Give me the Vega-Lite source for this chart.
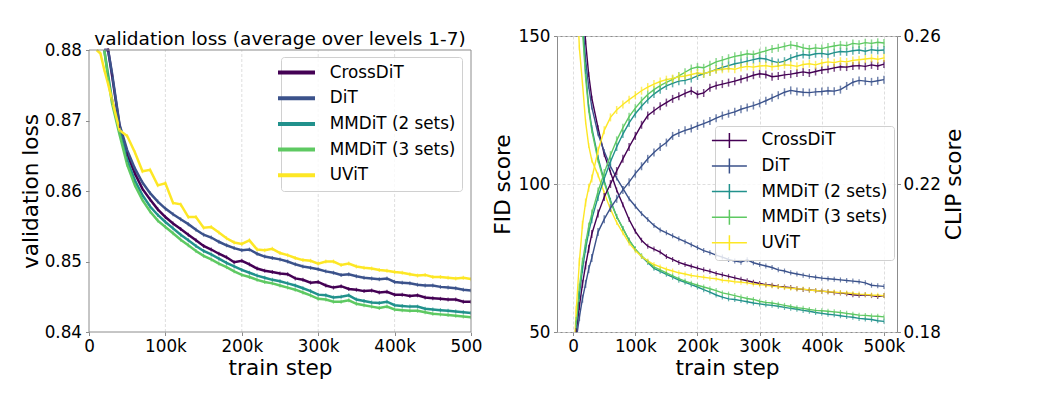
{
  "$schema": "https://vega.github.io/schema/vega-lite/v6.json",
  "padding": {"left": 20, "top": 27, "right": 0, "bottom": 0},
  "background": "white",
  "spacing": 9,
  "datasets": {
    "runs": [
      {"m":"CrossDiT","s":0,"loss":null,"fid":300,"clip":0.170},
      {"m":"CrossDiT","s":5000,"loss":null,"fid":230,"clip":0.180},
      {"m":"CrossDiT","s":10000,"loss":null,"fid":190,"clip":0.187},
      {"m":"CrossDiT","s":15000,"loss":null,"fid":165,"clip":0.193},
      {"m":"CrossDiT","s":20000,"loss":0.885,"fid":148,"clip":0.198},
      {"m":"CrossDiT","s":25000,"loss":0.880,"fid":137,"clip":0.2025},
      {"m":"CrossDiT","s":30000,"loss":0.8765,"fid":129,"clip":0.2065},
      {"m":"CrossDiT","s":40000,"loss":0.8692,"fid":119,"clip":0.2120},
      {"m":"CrossDiT","s":50000,"loss":0.8652,"fid":110,"clip":0.2165},
      {"m":"CrossDiT","s":60000,"loss":0.8625,"fid":104,"clip":0.2200},
      {"m":"CrossDiT","s":70000,"loss":0.8603,"fid":98,"clip":0.2235},
      {"m":"CrossDiT","s":80000,"loss":0.8588,"fid":93,"clip":0.2268},
      {"m":"CrossDiT","s":90000,"loss":0.8574,"fid":88,"clip":0.2300},
      {"m":"CrossDiT","s":100000,"loss":0.8563,"fid":84,"clip":0.2330},
      {"m":"CrossDiT","s":110000,"loss":0.8554,"fid":81,"clip":0.2360},
      {"m":"CrossDiT","s":120000,"loss":0.8546,"fid":79,"clip":0.2385},
      {"m":"CrossDiT","s":130000,"loss":0.8538,"fid":78,"clip":0.2398},
      {"m":"CrossDiT","s":140000,"loss":0.8530,"fid":77,"clip":0.2410},
      {"m":"CrossDiT","s":150000,"loss":0.8522,"fid":75.5,"clip":0.2420},
      {"m":"CrossDiT","s":160000,"loss":0.8517,"fid":74.5,"clip":0.2430},
      {"m":"CrossDiT","s":170000,"loss":0.8511,"fid":73.5,"clip":0.2437},
      {"m":"CrossDiT","s":180000,"loss":0.8506,"fid":72.8,"clip":0.2445},
      {"m":"CrossDiT","s":190000,"loss":0.8499,"fid":72.2,"clip":0.2452},
      {"m":"CrossDiT","s":200000,"loss":0.8501,"fid":71.6,"clip":0.2442},
      {"m":"CrossDiT","s":210000,"loss":0.8496,"fid":71.0,"clip":0.2446},
      {"m":"CrossDiT","s":220000,"loss":0.8490,"fid":70.5,"clip":0.2460},
      {"m":"CrossDiT","s":230000,"loss":0.8487,"fid":69.8,"clip":0.2466},
      {"m":"CrossDiT","s":240000,"loss":0.8485,"fid":69.3,"clip":0.2470},
      {"m":"CrossDiT","s":250000,"loss":0.8483,"fid":68.8,"clip":0.2474},
      {"m":"CrossDiT","s":260000,"loss":0.8482,"fid":68.3,"clip":0.2478},
      {"m":"CrossDiT","s":270000,"loss":0.8476,"fid":67.8,"clip":0.2483},
      {"m":"CrossDiT","s":280000,"loss":0.8474,"fid":67.3,"clip":0.2488},
      {"m":"CrossDiT","s":290000,"loss":0.8470,"fid":66.8,"clip":0.2494},
      {"m":"CrossDiT","s":300000,"loss":0.8471,"fid":66.4,"clip":0.2498},
      {"m":"CrossDiT","s":310000,"loss":0.8466,"fid":66.0,"clip":0.2496},
      {"m":"CrossDiT","s":320000,"loss":0.8463,"fid":65.8,"clip":0.2490},
      {"m":"CrossDiT","s":330000,"loss":0.8465,"fid":65.4,"clip":0.2492},
      {"m":"CrossDiT","s":340000,"loss":0.8461,"fid":65.2,"clip":0.2495},
      {"m":"CrossDiT","s":350000,"loss":0.8460,"fid":65.0,"clip":0.2497},
      {"m":"CrossDiT","s":360000,"loss":0.8458,"fid":64.6,"clip":0.2500},
      {"m":"CrossDiT","s":370000,"loss":0.8459,"fid":64.4,"clip":0.2503},
      {"m":"CrossDiT","s":380000,"loss":0.8456,"fid":64.2,"clip":0.2500},
      {"m":"CrossDiT","s":390000,"loss":0.8457,"fid":64.0,"clip":0.2504},
      {"m":"CrossDiT","s":400000,"loss":0.8453,"fid":63.8,"clip":0.2508},
      {"m":"CrossDiT","s":410000,"loss":0.8453,"fid":63.6,"clip":0.2510},
      {"m":"CrossDiT","s":420000,"loss":0.8451,"fid":63.3,"clip":0.2514},
      {"m":"CrossDiT","s":430000,"loss":0.8452,"fid":63.2,"clip":0.2517},
      {"m":"CrossDiT","s":440000,"loss":0.8449,"fid":62.9,"clip":0.2516},
      {"m":"CrossDiT","s":450000,"loss":0.8448,"fid":62.6,"clip":0.2519},
      {"m":"CrossDiT","s":460000,"loss":0.8447,"fid":62.4,"clip":0.2520},
      {"m":"CrossDiT","s":470000,"loss":0.8446,"fid":62.6,"clip":0.2518},
      {"m":"CrossDiT","s":480000,"loss":0.8446,"fid":62.3,"clip":0.2522},
      {"m":"CrossDiT","s":490000,"loss":0.8443,"fid":62.0,"clip":0.2519},
      {"m":"CrossDiT","s":500000,"loss":0.8443,"fid":62.3,"clip":0.2524},

      {"m":"DiT","s":0,"loss":null,"fid":300,"clip":0.170},
      {"m":"DiT","s":5000,"loss":null,"fid":220,"clip":0.178},
      {"m":"DiT","s":10000,"loss":null,"fid":180,"clip":0.184},
      {"m":"DiT","s":15000,"loss":null,"fid":155,"clip":0.189},
      {"m":"DiT","s":20000,"loss":0.886,"fid":142,"clip":0.193},
      {"m":"DiT","s":25000,"loss":0.8805,"fid":133,"clip":0.197},
      {"m":"DiT","s":30000,"loss":0.8768,"fid":126,"clip":0.200},
      {"m":"DiT","s":40000,"loss":0.8694,"fid":117,"clip":0.2070},
      {"m":"DiT","s":50000,"loss":0.8658,"fid":111,"clip":0.2105},
      {"m":"DiT","s":60000,"loss":0.8632,"fid":106,"clip":0.2135},
      {"m":"DiT","s":70000,"loss":0.8612,"fid":102,"clip":0.2160},
      {"m":"DiT","s":80000,"loss":0.8597,"fid":98.5,"clip":0.2184},
      {"m":"DiT","s":90000,"loss":0.8585,"fid":95,"clip":0.2205},
      {"m":"DiT","s":100000,"loss":0.8575,"fid":92.5,"clip":0.2228},
      {"m":"DiT","s":110000,"loss":0.8567,"fid":90,"clip":0.2248},
      {"m":"DiT","s":120000,"loss":0.8560,"fid":88,"clip":0.2268},
      {"m":"DiT","s":130000,"loss":0.8553,"fid":86,"clip":0.2285},
      {"m":"DiT","s":140000,"loss":0.8545,"fid":84.5,"clip":0.2300},
      {"m":"DiT","s":150000,"loss":0.8538,"fid":83.5,"clip":0.2312},
      {"m":"DiT","s":160000,"loss":0.8534,"fid":82.5,"clip":0.2330},
      {"m":"DiT","s":170000,"loss":0.8528,"fid":81.5,"clip":0.2338},
      {"m":"DiT","s":180000,"loss":0.8523,"fid":80.5,"clip":0.2345},
      {"m":"DiT","s":190000,"loss":0.8519,"fid":79.5,"clip":0.2350},
      {"m":"DiT","s":200000,"loss":0.8516,"fid":78.5,"clip":0.2357},
      {"m":"DiT","s":210000,"loss":0.8517,"fid":77.5,"clip":0.2363},
      {"m":"DiT","s":220000,"loss":0.8511,"fid":76.8,"clip":0.2370},
      {"m":"DiT","s":230000,"loss":0.8507,"fid":76.0,"clip":0.2378},
      {"m":"DiT","s":240000,"loss":0.8505,"fid":75.3,"clip":0.2385},
      {"m":"DiT","s":250000,"loss":0.8503,"fid":74.5,"clip":0.2390},
      {"m":"DiT","s":260000,"loss":0.8500,"fid":74.0,"clip":0.2395},
      {"m":"DiT","s":270000,"loss":0.8496,"fid":73.6,"clip":0.2402},
      {"m":"DiT","s":280000,"loss":0.8493,"fid":74.4,"clip":0.2407},
      {"m":"DiT","s":290000,"loss":0.8491,"fid":73.4,"clip":0.2412},
      {"m":"DiT","s":300000,"loss":0.8489,"fid":72.8,"clip":0.2418},
      {"m":"DiT","s":310000,"loss":0.8486,"fid":72.3,"clip":0.2425},
      {"m":"DiT","s":320000,"loss":0.8484,"fid":71.8,"clip":0.2433},
      {"m":"DiT","s":330000,"loss":0.8481,"fid":71.0,"clip":0.2440},
      {"m":"DiT","s":340000,"loss":0.8482,"fid":70.6,"clip":0.2448},
      {"m":"DiT","s":350000,"loss":0.8479,"fid":70.0,"clip":0.2453},
      {"m":"DiT","s":360000,"loss":0.8477,"fid":69.6,"clip":0.2450},
      {"m":"DiT","s":370000,"loss":0.8476,"fid":69.2,"clip":0.2448},
      {"m":"DiT","s":380000,"loss":0.8475,"fid":68.8,"clip":0.2447},
      {"m":"DiT","s":390000,"loss":0.8476,"fid":68.5,"clip":0.2449},
      {"m":"DiT","s":400000,"loss":0.8471,"fid":68.2,"clip":0.2450},
      {"m":"DiT","s":410000,"loss":0.8470,"fid":68.0,"clip":0.2452},
      {"m":"DiT","s":420000,"loss":0.8469,"fid":67.8,"clip":0.2451},
      {"m":"DiT","s":430000,"loss":0.8467,"fid":67.6,"clip":0.2455},
      {"m":"DiT","s":440000,"loss":0.8466,"fid":67.4,"clip":0.2465},
      {"m":"DiT","s":450000,"loss":0.8466,"fid":67.2,"clip":0.2475},
      {"m":"DiT","s":460000,"loss":0.8464,"fid":67.0,"clip":0.2480},
      {"m":"DiT","s":470000,"loss":0.8463,"fid":66.6,"clip":0.2478},
      {"m":"DiT","s":480000,"loss":0.8462,"fid":65.8,"clip":0.2476},
      {"m":"DiT","s":490000,"loss":0.8460,"fid":65.6,"clip":0.2479},
      {"m":"DiT","s":500000,"loss":0.8459,"fid":65.4,"clip":0.2482},

      {"m":"MMDiT (2 sets)","s":0,"loss":null,"fid":300,"clip":0.170},
      {"m":"MMDiT (2 sets)","s":5000,"loss":null,"fid":215,"clip":0.182},
      {"m":"MMDiT (2 sets)","s":10000,"loss":null,"fid":178,"clip":0.190},
      {"m":"MMDiT (2 sets)","s":15000,"loss":null,"fid":155,"clip":0.197},
      {"m":"MMDiT (2 sets)","s":20000,"loss":0.8815,"fid":138,"clip":0.2025},
      {"m":"MMDiT (2 sets)","s":25000,"loss":0.8765,"fid":126,"clip":0.207},
      {"m":"MMDiT (2 sets)","s":30000,"loss":0.8730,"fid":119,"clip":0.2105},
      {"m":"MMDiT (2 sets)","s":40000,"loss":0.8684,"fid":109,"clip":0.2165},
      {"m":"MMDiT (2 sets)","s":50000,"loss":0.8644,"fid":101,"clip":0.2215},
      {"m":"MMDiT (2 sets)","s":60000,"loss":0.8615,"fid":94.5,"clip":0.2260},
      {"m":"MMDiT (2 sets)","s":70000,"loss":0.8594,"fid":89,"clip":0.2300},
      {"m":"MMDiT (2 sets)","s":80000,"loss":0.8578,"fid":85,"clip":0.2335},
      {"m":"MMDiT (2 sets)","s":90000,"loss":0.8566,"fid":81,"clip":0.2365},
      {"m":"MMDiT (2 sets)","s":100000,"loss":0.8556,"fid":78,"clip":0.2390},
      {"m":"MMDiT (2 sets)","s":110000,"loss":0.8547,"fid":75.5,"clip":0.2410},
      {"m":"MMDiT (2 sets)","s":120000,"loss":0.8538,"fid":73.5,"clip":0.2428},
      {"m":"MMDiT (2 sets)","s":130000,"loss":0.8530,"fid":71.5,"clip":0.2443},
      {"m":"MMDiT (2 sets)","s":140000,"loss":0.8522,"fid":70.5,"clip":0.2455},
      {"m":"MMDiT (2 sets)","s":150000,"loss":0.8515,"fid":69.5,"clip":0.2465},
      {"m":"MMDiT (2 sets)","s":160000,"loss":0.8510,"fid":68.5,"clip":0.2472},
      {"m":"MMDiT (2 sets)","s":170000,"loss":0.8504,"fid":67.5,"clip":0.2478},
      {"m":"MMDiT (2 sets)","s":180000,"loss":0.8498,"fid":66.8,"clip":0.2480},
      {"m":"MMDiT (2 sets)","s":190000,"loss":0.8493,"fid":66.0,"clip":0.2485},
      {"m":"MMDiT (2 sets)","s":200000,"loss":0.8488,"fid":65.2,"clip":0.2492},
      {"m":"MMDiT (2 sets)","s":210000,"loss":0.8484,"fid":64.3,"clip":0.2498},
      {"m":"MMDiT (2 sets)","s":220000,"loss":0.8480,"fid":63.5,"clip":0.2503},
      {"m":"MMDiT (2 sets)","s":230000,"loss":0.8477,"fid":62.5,"clip":0.2510},
      {"m":"MMDiT (2 sets)","s":240000,"loss":0.8474,"fid":61.8,"clip":0.2515},
      {"m":"MMDiT (2 sets)","s":250000,"loss":0.8472,"fid":61.2,"clip":0.2520},
      {"m":"MMDiT (2 sets)","s":260000,"loss":0.8469,"fid":61.0,"clip":0.2525},
      {"m":"MMDiT (2 sets)","s":270000,"loss":0.8466,"fid":60.6,"clip":0.2528},
      {"m":"MMDiT (2 sets)","s":280000,"loss":0.8462,"fid":60.2,"clip":0.2532},
      {"m":"MMDiT (2 sets)","s":290000,"loss":0.8458,"fid":59.8,"clip":0.2536},
      {"m":"MMDiT (2 sets)","s":300000,"loss":0.8453,"fid":59.5,"clip":0.2540},
      {"m":"MMDiT (2 sets)","s":310000,"loss":0.8452,"fid":59.2,"clip":0.2538},
      {"m":"MMDiT (2 sets)","s":320000,"loss":0.8449,"fid":59.0,"clip":0.2532},
      {"m":"MMDiT (2 sets)","s":330000,"loss":0.8450,"fid":58.7,"clip":0.2528},
      {"m":"MMDiT (2 sets)","s":340000,"loss":0.8452,"fid":58.3,"clip":0.2532},
      {"m":"MMDiT (2 sets)","s":350000,"loss":0.8446,"fid":58.0,"clip":0.2540},
      {"m":"MMDiT (2 sets)","s":360000,"loss":0.8444,"fid":57.7,"clip":0.2546},
      {"m":"MMDiT (2 sets)","s":370000,"loss":0.8442,"fid":57.3,"clip":0.2550},
      {"m":"MMDiT (2 sets)","s":380000,"loss":0.8441,"fid":57.0,"clip":0.2548},
      {"m":"MMDiT (2 sets)","s":390000,"loss":0.8443,"fid":56.6,"clip":0.2552},
      {"m":"MMDiT (2 sets)","s":400000,"loss":0.8438,"fid":56.3,"clip":0.2553},
      {"m":"MMDiT (2 sets)","s":410000,"loss":0.8437,"fid":56.0,"clip":0.2550},
      {"m":"MMDiT (2 sets)","s":420000,"loss":0.8436,"fid":55.8,"clip":0.2555},
      {"m":"MMDiT (2 sets)","s":430000,"loss":0.8436,"fid":55.5,"clip":0.2558},
      {"m":"MMDiT (2 sets)","s":440000,"loss":0.8433,"fid":55.2,"clip":0.2557},
      {"m":"MMDiT (2 sets)","s":450000,"loss":0.8432,"fid":55.0,"clip":0.2560},
      {"m":"MMDiT (2 sets)","s":460000,"loss":0.8431,"fid":54.6,"clip":0.2562},
      {"m":"MMDiT (2 sets)","s":470000,"loss":0.8430,"fid":54.4,"clip":0.2559},
      {"m":"MMDiT (2 sets)","s":480000,"loss":0.8429,"fid":54.2,"clip":0.2563},
      {"m":"MMDiT (2 sets)","s":490000,"loss":0.8428,"fid":53.8,"clip":0.2561},
      {"m":"MMDiT (2 sets)","s":500000,"loss":0.8427,"fid":53.6,"clip":0.2562},

      {"m":"MMDiT (3 sets)","s":0,"loss":null,"fid":300,"clip":0.170},
      {"m":"MMDiT (3 sets)","s":5000,"loss":null,"fid":210,"clip":0.183},
      {"m":"MMDiT (3 sets)","s":10000,"loss":null,"fid":175,"clip":0.192},
      {"m":"MMDiT (3 sets)","s":15000,"loss":null,"fid":152,"clip":0.199},
      {"m":"MMDiT (3 sets)","s":20000,"loss":0.8810,"fid":136,"clip":0.204},
      {"m":"MMDiT (3 sets)","s":25000,"loss":0.8760,"fid":125,"clip":0.2085},
      {"m":"MMDiT (3 sets)","s":30000,"loss":0.8725,"fid":118,"clip":0.2120},
      {"m":"MMDiT (3 sets)","s":40000,"loss":0.8680,"fid":108,"clip":0.2180},
      {"m":"MMDiT (3 sets)","s":50000,"loss":0.8637,"fid":100.5,"clip":0.2230},
      {"m":"MMDiT (3 sets)","s":60000,"loss":0.8608,"fid":94,"clip":0.2278},
      {"m":"MMDiT (3 sets)","s":70000,"loss":0.8587,"fid":89,"clip":0.2318},
      {"m":"MMDiT (3 sets)","s":80000,"loss":0.8571,"fid":85,"clip":0.2352},
      {"m":"MMDiT (3 sets)","s":90000,"loss":0.8558,"fid":81,"clip":0.2382},
      {"m":"MMDiT (3 sets)","s":100000,"loss":0.8549,"fid":78,"clip":0.2405},
      {"m":"MMDiT (3 sets)","s":110000,"loss":0.8540,"fid":75.8,"clip":0.2425},
      {"m":"MMDiT (3 sets)","s":120000,"loss":0.8531,"fid":73.8,"clip":0.2442},
      {"m":"MMDiT (3 sets)","s":130000,"loss":0.8523,"fid":72.0,"clip":0.2455},
      {"m":"MMDiT (3 sets)","s":140000,"loss":0.8515,"fid":71.0,"clip":0.2466},
      {"m":"MMDiT (3 sets)","s":150000,"loss":0.8508,"fid":70.0,"clip":0.2475},
      {"m":"MMDiT (3 sets)","s":160000,"loss":0.8503,"fid":69.0,"clip":0.2483},
      {"m":"MMDiT (3 sets)","s":170000,"loss":0.8497,"fid":68.0,"clip":0.2492},
      {"m":"MMDiT (3 sets)","s":180000,"loss":0.8492,"fid":67.2,"clip":0.2502},
      {"m":"MMDiT (3 sets)","s":190000,"loss":0.8486,"fid":66.5,"clip":0.2512},
      {"m":"MMDiT (3 sets)","s":200000,"loss":0.8481,"fid":65.8,"clip":0.2516},
      {"m":"MMDiT (3 sets)","s":210000,"loss":0.8478,"fid":65.2,"clip":0.2514},
      {"m":"MMDiT (3 sets)","s":220000,"loss":0.8474,"fid":64.6,"clip":0.2522},
      {"m":"MMDiT (3 sets)","s":230000,"loss":0.8471,"fid":64.0,"clip":0.2530},
      {"m":"MMDiT (3 sets)","s":240000,"loss":0.8469,"fid":63.2,"clip":0.2535},
      {"m":"MMDiT (3 sets)","s":250000,"loss":0.8466,"fid":62.8,"clip":0.2540},
      {"m":"MMDiT (3 sets)","s":260000,"loss":0.8463,"fid":62.3,"clip":0.2545},
      {"m":"MMDiT (3 sets)","s":270000,"loss":0.8460,"fid":61.8,"clip":0.2548},
      {"m":"MMDiT (3 sets)","s":280000,"loss":0.8456,"fid":61.3,"clip":0.2552},
      {"m":"MMDiT (3 sets)","s":290000,"loss":0.8452,"fid":61.0,"clip":0.2550},
      {"m":"MMDiT (3 sets)","s":300000,"loss":0.8447,"fid":60.4,"clip":0.2555},
      {"m":"MMDiT (3 sets)","s":310000,"loss":0.8446,"fid":60.0,"clip":0.2560},
      {"m":"MMDiT (3 sets)","s":320000,"loss":0.8443,"fid":59.8,"clip":0.2565},
      {"m":"MMDiT (3 sets)","s":330000,"loss":0.8443,"fid":59.4,"clip":0.2568},
      {"m":"MMDiT (3 sets)","s":340000,"loss":0.8445,"fid":59.0,"clip":0.2572},
      {"m":"MMDiT (3 sets)","s":350000,"loss":0.8440,"fid":58.6,"clip":0.2576},
      {"m":"MMDiT (3 sets)","s":360000,"loss":0.8438,"fid":58.2,"clip":0.2573},
      {"m":"MMDiT (3 sets)","s":370000,"loss":0.8436,"fid":58.0,"clip":0.2568},
      {"m":"MMDiT (3 sets)","s":380000,"loss":0.8434,"fid":57.6,"clip":0.2565},
      {"m":"MMDiT (3 sets)","s":390000,"loss":0.8436,"fid":57.3,"clip":0.2568},
      {"m":"MMDiT (3 sets)","s":400000,"loss":0.8432,"fid":57.2,"clip":0.2566},
      {"m":"MMDiT (3 sets)","s":410000,"loss":0.8431,"fid":57.0,"clip":0.2570},
      {"m":"MMDiT (3 sets)","s":420000,"loss":0.8430,"fid":56.8,"clip":0.2573},
      {"m":"MMDiT (3 sets)","s":430000,"loss":0.8430,"fid":56.6,"clip":0.2576},
      {"m":"MMDiT (3 sets)","s":440000,"loss":0.8428,"fid":56.3,"clip":0.2574},
      {"m":"MMDiT (3 sets)","s":450000,"loss":0.8426,"fid":56.0,"clip":0.2580},
      {"m":"MMDiT (3 sets)","s":460000,"loss":0.8425,"fid":55.7,"clip":0.2578},
      {"m":"MMDiT (3 sets)","s":470000,"loss":0.8424,"fid":55.6,"clip":0.2582},
      {"m":"MMDiT (3 sets)","s":480000,"loss":0.8423,"fid":55.4,"clip":0.2580},
      {"m":"MMDiT (3 sets)","s":490000,"loss":0.8422,"fid":55.3,"clip":0.2583},
      {"m":"MMDiT (3 sets)","s":500000,"loss":0.8421,"fid":55.1,"clip":0.2581},

      {"m":"UViT","s":0,"loss":null,"fid":300,"clip":0.170},
      {"m":"UViT","s":5000,"loss":null,"fid":170,"clip":0.186},
      {"m":"UViT","s":10000,"loss":0.890,"fid":146,"clip":0.199},
      {"m":"UViT","s":15000,"loss":0.8795,"fid":134,"clip":0.209},
      {"m":"UViT","s":20000,"loss":0.8772,"fid":121,"clip":0.2150},
      {"m":"UViT","s":25000,"loss":0.8752,"fid":113,"clip":0.2190},
      {"m":"UViT","s":30000,"loss":0.8730,"fid":108,"clip":0.2215},
      {"m":"UViT","s":40000,"loss":0.8686,"fid":103,"clip":0.2290},
      {"m":"UViT","s":50000,"loss":0.8678,"fid":97,"clip":0.2345},
      {"m":"UViT","s":60000,"loss":0.8655,"fid":91.5,"clip":0.2380},
      {"m":"UViT","s":70000,"loss":0.8628,"fid":87,"clip":0.2400},
      {"m":"UViT","s":80000,"loss":0.8630,"fid":83.5,"clip":0.2415},
      {"m":"UViT","s":90000,"loss":0.8608,"fid":80,"clip":0.2428},
      {"m":"UViT","s":100000,"loss":0.8611,"fid":77.5,"clip":0.2440},
      {"m":"UViT","s":110000,"loss":0.8583,"fid":75.5,"clip":0.2452},
      {"m":"UViT","s":120000,"loss":0.8581,"fid":74.0,"clip":0.2462},
      {"m":"UViT","s":130000,"loss":0.8563,"fid":72.8,"clip":0.2470},
      {"m":"UViT","s":140000,"loss":0.8563,"fid":72.0,"clip":0.2477},
      {"m":"UViT","s":150000,"loss":0.8548,"fid":71.2,"clip":0.2482},
      {"m":"UViT","s":160000,"loss":0.8549,"fid":70.6,"clip":0.2485},
      {"m":"UViT","s":170000,"loss":0.8541,"fid":70.0,"clip":0.2490},
      {"m":"UViT","s":180000,"loss":0.8533,"fid":69.6,"clip":0.2492},
      {"m":"UViT","s":190000,"loss":0.8527,"fid":69.1,"clip":0.2496},
      {"m":"UViT","s":200000,"loss":0.8525,"fid":68.8,"clip":0.2500},
      {"m":"UViT","s":210000,"loss":0.8530,"fid":68.5,"clip":0.2498},
      {"m":"UViT","s":220000,"loss":0.8517,"fid":68.2,"clip":0.2503},
      {"m":"UViT","s":230000,"loss":0.8516,"fid":68.0,"clip":0.2508},
      {"m":"UViT","s":240000,"loss":0.8518,"fid":67.5,"clip":0.2510},
      {"m":"UViT","s":250000,"loss":0.8512,"fid":67.3,"clip":0.2512},
      {"m":"UViT","s":260000,"loss":0.8509,"fid":67.0,"clip":0.2510},
      {"m":"UViT","s":270000,"loss":0.8505,"fid":66.8,"clip":0.2515},
      {"m":"UViT","s":280000,"loss":0.8502,"fid":66.6,"clip":0.2518},
      {"m":"UViT","s":290000,"loss":0.8501,"fid":66.2,"clip":0.2516},
      {"m":"UViT","s":300000,"loss":0.8497,"fid":66.0,"clip":0.2519},
      {"m":"UViT","s":310000,"loss":0.8500,"fid":65.8,"clip":0.2520},
      {"m":"UViT","s":320000,"loss":0.8500,"fid":65.5,"clip":0.2517},
      {"m":"UViT","s":330000,"loss":0.8495,"fid":65.3,"clip":0.2519},
      {"m":"UViT","s":340000,"loss":0.8497,"fid":65.0,"clip":0.2522},
      {"m":"UViT","s":350000,"loss":0.8493,"fid":64.8,"clip":0.2521},
      {"m":"UViT","s":360000,"loss":0.8491,"fid":64.6,"clip":0.2518},
      {"m":"UViT","s":370000,"loss":0.8490,"fid":64.5,"clip":0.2523},
      {"m":"UViT","s":380000,"loss":0.8488,"fid":64.2,"clip":0.2525},
      {"m":"UViT","s":390000,"loss":0.8487,"fid":64.0,"clip":0.2522},
      {"m":"UViT","s":400000,"loss":0.8485,"fid":63.8,"clip":0.2527},
      {"m":"UViT","s":410000,"loss":0.8484,"fid":63.6,"clip":0.2530},
      {"m":"UViT","s":420000,"loss":0.8482,"fid":63.5,"clip":0.2528},
      {"m":"UViT","s":430000,"loss":0.8480,"fid":63.3,"clip":0.2532},
      {"m":"UViT","s":440000,"loss":0.8481,"fid":63.2,"clip":0.2530},
      {"m":"UViT","s":450000,"loss":0.8478,"fid":63.0,"clip":0.2534},
      {"m":"UViT","s":460000,"loss":0.8478,"fid":62.8,"clip":0.2536},
      {"m":"UViT","s":470000,"loss":0.8477,"fid":62.7,"clip":0.2538},
      {"m":"UViT","s":480000,"loss":0.8476,"fid":62.5,"clip":0.2540},
      {"m":"UViT","s":490000,"loss":0.8477,"fid":62.4,"clip":0.2537},
      {"m":"UViT","s":500000,"loss":0.8475,"fid":62.3,"clip":0.2541}
    ]
  },
  "data": {"name": "runs"},
  "config": {
    "font": "DejaVu Sans",
    "view": {"stroke": "#8c8c8c", "strokeWidth": 1},
    "axis": {
      "labelFont": "DejaVu Sans",
      "titleFont": "DejaVu Sans",
      "labelFontSize": 16.8,
      "titleFontSize": 21.6,
      "titleFontWeight": "normal",
      "labelColor": "#000000",
      "titleColor": "#000000",
      "domain": false,
      "tickColor": "#8c8c8c",
      "tickSize": 3.5,
      "labelPadding": 3,
      "labelFlush": false,
      "gridColor": "#d6d6d6",
      "gridDash": [3, 2],
      "gridWidth": 0.8
    },
    "legend": {
      "title": null,
      "orient": "none",
      "labelFont": "DejaVu Sans",
      "labelFontSize": 16.8,
      "labelColor": "#000000",
      "labelLimit": 300,
      "padding": 6,
      "strokeColor": "#d0d0d0",
      "fillColor": "rgba(255,255,255,0.8)",
      "cornerRadius": 3
    }
  },
  "hconcat": [
    {
      "width": 382,
      "height": 296,
      "view": {"stroke": null},
      "title": {
        "text": "validation loss (average over levels 1-7)",
        "fontSize": 18.5,
        "fontWeight": "normal",
        "color": "#000000",
        "anchor": "middle",
        "offset": -12
      },
      "layer": [
        {
          "transform": [
            {"filter": {"field": "m", "equal": "CrossDiT"}},
            {"filter": {"field": "s", "oneOf": [100000, 200000, 300000, 400000]}}
          ],
          "mark": {"type": "rule", "stroke": "#d6d6d6", "strokeWidth": 0.8, "strokeDash": [3, 2]},
          "encoding": {
            "x": {"field": "s", "type": "quantitative", "axis": null},
            "y": {"datum": 0.84, "type": "quantitative", "axis": null},
            "y2": {"datum": 0.88}
          }
        },
        {
          "mark": {"type": "line", "strokeWidth": 2.5, "clip": true},
          "encoding": {
            "x": {
              "field": "s", "type": "quantitative",
              "scale": {"domain": [0, 500000], "nice": false},
              "axis": {
                "values": [0, 100000, 200000, 300000, 400000, 500000],
                "labelExpr": "datum.value == 0 ? '0' : datum.value == 500000 ? '500' : format(datum.value / 1000, 'd') + 'k'",
                "labelOffset": {"condition": {"test": "datum.value == 500000", "value": -5}, "value": 0},
                "title": "train step",
                "titlePadding": 2,
                "grid": false
              }
            },
            "y": {
              "field": "loss", "type": "quantitative",
              "scale": {"domain": [0.84, 0.88], "range": [296, 14], "nice": false, "zero": false, "clamp": true},
              "axis": {
                "values": [0.84, 0.85, 0.86, 0.87, 0.88],
                "format": ".2f",
                "title": "validation loss",
                "labelPadding": 4,
                "titlePadding": 2
              }
            },
            "color": {
              "field": "m", "type": "nominal",
              "scale": {
                "domain": ["CrossDiT", "DiT", "MMDiT (2 sets)", "MMDiT (3 sets)", "UViT"],
                "range": ["#440154", "#3b528b", "#21918c", "#5ec962", "#fde725"]
              },
              "legend": {
                "legendX": 192,
                "legendY": 21,
                "rowPadding": 6.7,
                "symbolType": "M-2.5,0H2.5",
                "symbolSize": 219,
                "symbolStrokeWidth": 4,
                "labelOffset": 23.8
              }
            }
          }
        },
        {
          "transform": [{"filter": {"field": "loss", "lte": 0.88}}],
          "mark": {"type": "tick", "orient": "vertical", "size": 4, "thickness": 1.2, "clip": true},
          "encoding": {
            "x": {"field": "s", "type": "quantitative", "axis": null},
            "y": {"field": "loss", "type": "quantitative", "axis": null},
            "color": {"field": "m", "type": "nominal", "legend": null}
          }
        },
        {
          "data": {"values": [{}]},
          "mark": {"type": "rect", "fillOpacity": 0, "stroke": "#8c8c8c", "strokeWidth": 1},
          "encoding": {
            "x": {"datum": 0, "type": "quantitative", "axis": null},
            "x2": {"datum": 500000},
            "y": {"datum": 0.84, "type": "quantitative", "axis": null},
            "y2": {"datum": 0.88}
          }
        }
      ],
      "resolve": {"axis": {"x": "independent", "y": "independent"}}
    },
    {
      "width": 340,
      "height": 296,
      "layer": [
        {
          "layer": [
            {
              "mark": {"type": "line", "strokeWidth": 1.4, "clip": true},
              "encoding": {
                "x": {
                  "field": "s", "type": "quantitative",
                  "scale": {"domain": [-26000, 521000], "nice": false, "zero": false},
                  "axis": {
                    "values": [0, 100000, 200000, 300000, 400000, 500000],
                    "labelExpr": "datum.value == 0 ? '0' : format(datum.value / 1000, 'd') + 'k'",
                    "title": "train step",
                    "titlePadding": 2
                  }
                },
                "y": {
                  "field": "fid", "type": "quantitative",
                  "scale": {"domain": [50, 150], "nice": false, "zero": false},
                  "axis": {
                    "values": [50, 100, 150],
                    "title": "FID score",
                    "labelPadding": 3.5,
                    "titlePadding": 3
                  }
                },
                "color": {
                  "field": "m", "type": "nominal",
                  "scale": {
                    "domain": ["CrossDiT", "DiT", "MMDiT (2 sets)", "MMDiT (3 sets)", "UViT"],
                    "range": ["#440154", "#3b528b", "#21918c", "#5ec962", "#fde725"]
                  },
                  "legend": {
                    "legendX": 158,
                    "legendY": 90,
                    "rowPadding": 3.6,
                    "symbolType": "M-2.5,0H2.5M0,-1.07V1.07",
                    "symbolSize": 196,
                    "symbolStrokeWidth": 1.5,
                    "labelOffset": 23.8
                  }
                }
              }
            },
            {
              "mark": {"type": "tick", "orient": "vertical", "size": 5, "thickness": 1.2, "clip": true},
              "encoding": {
                "x": {"field": "s", "type": "quantitative"},
                "y": {"field": "fid", "type": "quantitative"},
                "color": {"field": "m", "type": "nominal", "legend": null}
              }
            }
          ]
        },
        {
          "layer": [
            {
              "mark": {"type": "line", "strokeWidth": 1.4, "clip": true},
              "encoding": {
                "x": {"field": "s", "type": "quantitative"},
                "y": {
                  "field": "clip", "type": "quantitative",
                  "scale": {"domain": [0.18, 0.26], "nice": false, "zero": false},
                  "axis": {
                    "orient": "right",
                    "values": [0.18, 0.22, 0.26],
                    "format": ".2f",
                    "grid": false,
                    "title": "CLIP score",
                    "titleAngle": 270,
                    "titleBaseline": "top",
                    "labelPadding": 2.5,
                    "titlePadding": 3
                  }
                },
                "color": {"field": "m", "type": "nominal", "legend": null}
              }
            },
            {
              "mark": {"type": "tick", "orient": "vertical", "size": 8, "thickness": 1.5, "clip": true},
              "encoding": {
                "x": {"field": "s", "type": "quantitative"},
                "y": {"field": "clip", "type": "quantitative"},
                "color": {"field": "m", "type": "nominal", "legend": null}
              }
            }
          ]
        }
      ],
      "resolve": {"scale": {"y": "independent"}}
    }
  ],
  "resolve": {"scale": {"color": "independent"}, "legend": {"color": "independent"}}
}
